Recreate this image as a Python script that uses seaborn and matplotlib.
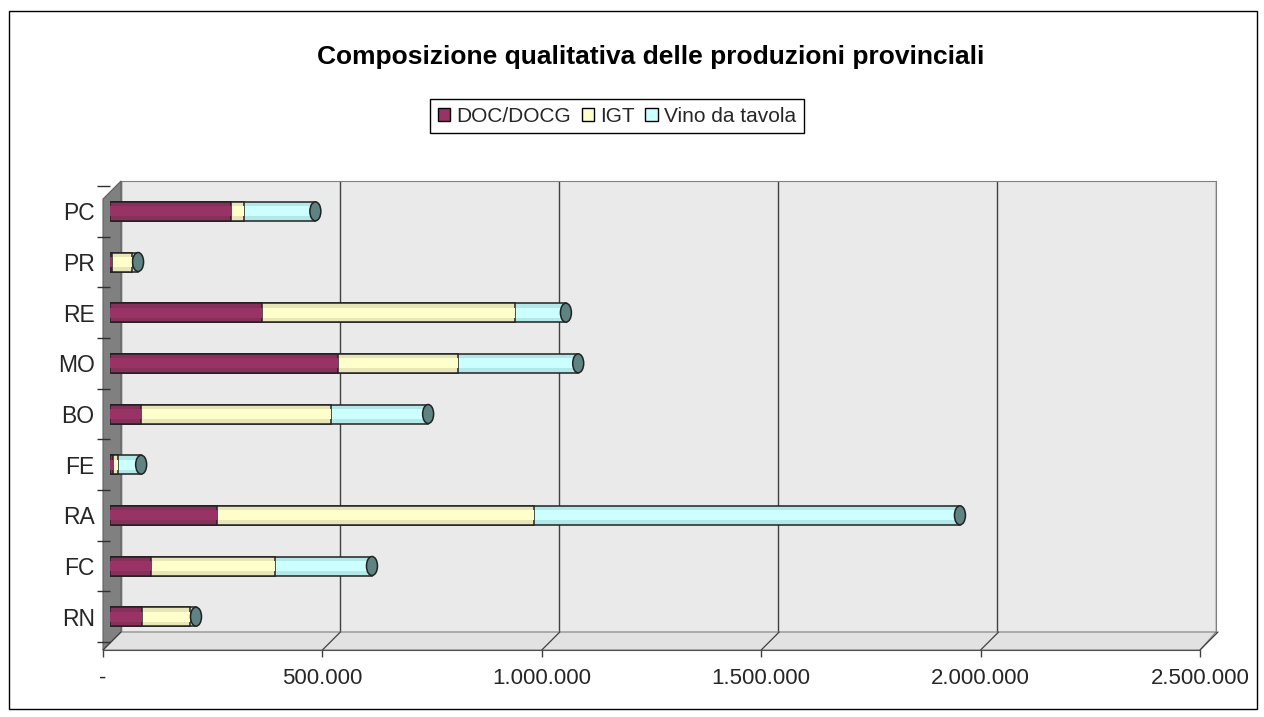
import numpy as np
import pandas as pd
import seaborn as sns
import matplotlib.pyplot as plt
from matplotlib.patches import Patch, Ellipse, Polygon, Rectangle

# Data
provinces = ['PC', 'PR', 'RE', 'MO', 'BO', 'FE', 'RA', 'FC', 'RN']
doc_docg = [276000, 5000, 346000, 520000, 71000, 7000, 244000, 93000, 73000]
igt = [30000, 45000, 577000, 273000, 433000, 11000, 722000, 283000, 109000]
vino_tavola = [162000, 14000, 116000, 274000, 221000, 53000, 971000, 221000, 14000]
x_ticks = [0, 500000, 1000000, 1500000, 2000000, 2500000]
x_tick_labels = ['-', '500.000', '1.000.000', '1.500.000', '2.000.000', '2.500.000']

W, H = 1264, 717

def px_rect(x0, y0, x1, y1):
    return [x0 / W, 1 - y1 / H, (x1 - x0) / W, (y1 - y0) / H]

def px_pt(x, y):
    return (x / W, 1 - y / H)

sns.set_style('white')
plt.rcParams['font.family'] = ['Liberation Sans', 'DejaVu Sans']

df = pd.DataFrame({'Provincia': provinces, 'DOC': doc_docg, 'IGT': igt, 'VdT': vino_tavola})
df['DOC_IGT'] = df['DOC'] + df['IGT']
df['Totale'] = df['DOC_IGT'] + df['VdT']

fig = plt.figure(figsize=(W / 100, H / 100), dpi=100)

# Outer chart border
fig.patches.append(Rectangle(px_pt(9, 709), (1257 - 9) / W, (709 - 11) / H,
                             transform=fig.transFigure, fill=False, edgecolor='black', lw=1))

# Back wall
ax_back = fig.add_axes(px_rect(121, 181, 1216, 632))
ax_back.set_zorder(0)
ax_back.set_facecolor('#eaeaea')
ax_back.set_xlim(0, 2500000)
ax_back.set_xticks(x_ticks)
ax_back.set_yticks([])
ax_back.tick_params(axis='x', length=0, labelbottom=False)
ax_back.grid(True, axis='x', color='#404040', lw=1)
for s in ax_back.spines.values():
    s.set_color('#808080')

# Side wall and floor
fig.patches.append(Polygon([px_pt(103, 199), px_pt(121, 181), px_pt(121, 632), px_pt(103, 650)],
                           closed=True, transform=fig.transFigure, facecolor='#808080',
                           edgecolor='#606060', lw=0.8, zorder=1))
fig.patches.append(Polygon([px_pt(103, 650), px_pt(121, 632), px_pt(1216, 632), px_pt(1200, 650)],
                           closed=True, transform=fig.transFigure, facecolor='#e2e2e2',
                           edgecolor='#808080', lw=0.8, zorder=1))

# Front axis (tick labels)
ax_front = fig.add_axes(px_rect(103, 199, 1200, 650))
ax_front.set_zorder(2)
ax_front.patch.set_visible(False)
ax_front.set_xlim(0, 2500000)
ax_front.set_ylim(0, 1)
ax_front.set_yticks([])
ax_front.set_xticks(x_ticks)
ax_front.set_xticklabels(x_tick_labels, fontsize=16)
ax_front.tick_params(axis='x', bottom=True, length=5, width=1, color='#404040', pad=8,
                     direction='out')
for name, s in ax_front.spines.items():
    s.set_visible(name == 'bottom')
ax_front.spines['bottom'].set_color('#505050')
# floor diagonals from the front ticks to the back grid
for v in x_ticks:
    ax_front.plot([v, v + 18 * 2500000 / 1097], [0, 18 / 451], color='#404040', lw=0.9,
                  clip_on=False)

# Bars (mid depth)
ax = fig.add_axes(px_rect(110, 186, 1207, 642))
ax.set_zorder(3)
ax.patch.set_visible(False)
layers = [
    ('Totale', '#b3e8e8', '#ccffff'),
    ('DOC_IGT', '#e8e6b8', '#ffffcc'),
    ('DOC', '#86305a', '#993366'),
]
for col, base, light in layers:
    sns.barplot(data=df, y='Provincia', x=col, orient='h', color=base, width=0.375,
                edgecolor='#222222', linewidth=1.1, saturation=1, ax=ax)
    sns.barplot(data=df, y='Provincia', x=col, orient='h', color=light, width=0.2,
                edgecolor='none', linewidth=0, saturation=1, ax=ax)

# End caps of the cylinders
cap_w = 11 * 2500000 / 1097
for i, tot in enumerate(df['Totale']):
    ax.add_patch(Ellipse((tot, i), cap_w, 0.375, facecolor='#5f8282',
                         edgecolor='#222222', lw=1.1, zorder=5))

ax.set_xlim(0, 2500000)
ax.set_ylim(len(provinces) - 0.5, -0.5)
ax.set_xlabel('')
ax.set_ylabel('')
ax.set_xticks([])
ax.set_yticks(range(len(provinces)))
ax.set_yticklabels(provinces, fontsize=16.5)
ax.set_yticks(np.arange(-0.5, len(provinces)), minor=True)
ax.tick_params(axis='y', which='major', length=0, pad=11)
ax.tick_params(axis='y', which='minor', left=True, length=9.5, width=1, color='#303030')
for s in ax.spines.values():
    s.set_visible(False)

# Title and legend
fig.text(651 / W, 1 - 57 / H, 'Composizione qualitativa delle produzioni provinciali',
         ha='center', va='center', fontsize=19, fontweight='bold', color='black')
handles = [Patch(facecolor='#993366', edgecolor='black', label='DOC/DOCG'),
           Patch(facecolor='#ffffcc', edgecolor='black', label='IGT'),
           Patch(facecolor='#ccffff', edgecolor='black', label='Vino da tavola')]
fig.legend(handles=handles, loc='center', bbox_to_anchor=px_pt(617, 116), ncol=3,
           fontsize=15, frameon=True, fancybox=False, edgecolor='black', framealpha=1,
           handlelength=0.6, handleheight=0.6, handletextpad=0.3, columnspacing=0.5,
           borderpad=0.35, borderaxespad=0)

fig.savefig('out.png', dpi=100)
